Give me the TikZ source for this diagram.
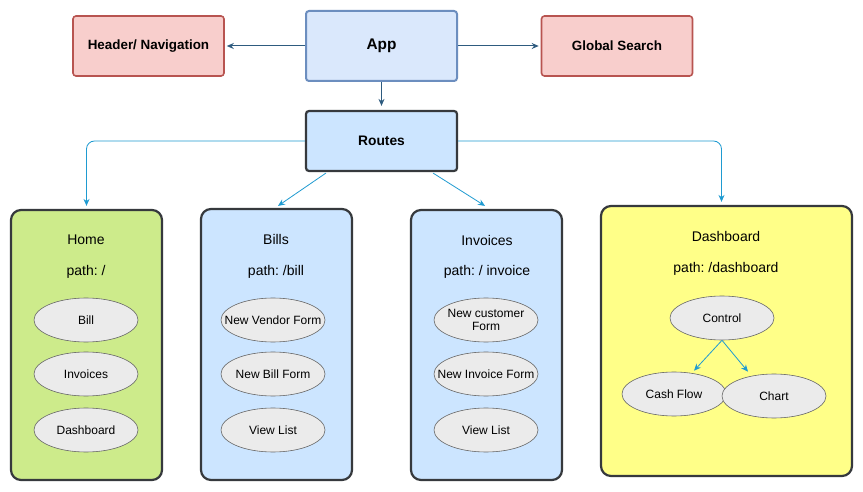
\documentclass[tikz,border=0pt]{standalone}
\usepackage{fontspec}
\setmainfont{Liberation Sans}
\frenchspacing
\usetikzlibrary{arrows.meta,calc,shapes.geometric}
\definecolor{redfill}{HTML}{F8CECC}
\definecolor{redline}{HTML}{B85450}
\definecolor{appfill}{HTML}{DAE8FC}
\definecolor{appline}{HTML}{6C8EBF}
\definecolor{bluefill}{HTML}{CCE5FF}
\definecolor{darkline}{HTML}{36393D}
\definecolor{greenfill}{HTML}{CDEB8B}
\definecolor{yellowfill}{HTML}{FFFF88}
\definecolor{ellfill}{HTML}{EBEBEB}
\definecolor{ellline}{HTML}{666666}
\definecolor{darkarrow}{HTML}{2E5B7F}
\definecolor{lightarrow}{HTML}{1F9BD1}
\newcommand{\ctext}[1]{\makebox[0pt]{\smash{\raisebox{-4.5pt}{\begin{tabular}{@{}c@{}}#1\end{tabular}}}}}
\begin{document}
\begin{tikzpicture}[x=1pt,y=-1pt,
  topbox/.style={draw=redline,fill=redfill,line width=1.6pt,rounded corners=3pt,minimum width=151pt,minimum height=60pt,font=\fontsize{13.4}{15}\selectfont\bfseries,inner sep=0pt},
  appbox/.style={draw=appline,fill=appfill,line width=2pt,rounded corners=3pt,minimum width=151pt,minimum height=70pt,font=\fontsize{15.4}{17}\selectfont\bfseries,inner sep=0pt},
  routebox/.style={draw=darkline,fill=bluefill,line width=2.2pt,rounded corners=3pt,minimum width=151pt,minimum height=60pt,font=\fontsize{13.8}{15}\selectfont\bfseries,inner sep=0pt},
  pagebox/.style={draw=darkline,line width=2.2pt,rounded corners=10pt,inner sep=0pt},
  lbl/.style={font=\fontsize{14}{16}\selectfont,inner sep=0pt},
  ell/.style={draw=ellline,fill=ellfill,ellipse,line width=0.6pt,minimum width=104pt,minimum height=44pt,inner sep=0pt,font=\fontsize{12}{13.5}\selectfont},
  darr/.style={draw=darkarrow,line width=1pt,-{Stealth[length=7pt,width=6pt]}},
  larr/.style={draw=lightarrow,line width=0.8pt,-{Stealth[length=7pt,width=6pt]}}
]
\useasboundingbox (0,0) rectangle (863,492);
\fill[white] (0,0) rectangle (863,492);

\node[topbox] (hdr) at (148.5,46) {Header/ Navigation};
\node[appbox] (app) at (381.5,46) {App};
\node[topbox] (gs) at (617,46) {Global Search};
\node[routebox] (routes) at (381.5,141) {Routes};

\draw[darr] (app.west) -- ($(hdr.east)+(2,0)$);
\draw[darr] (app.east) -- ($(gs.west)+(-2,0)$);
\draw[darr] (app.south) -- ($(routes.north)+(0,-4)$);

% page boxes
\node[pagebox,fill=greenfill,minimum width=151pt,minimum height=270pt] (home) at (86.5,345) {};
\node[pagebox,fill=bluefill,minimum width=151pt,minimum height=271pt] (bills) at (276.5,344.5) {};
\node[pagebox,fill=bluefill,minimum width=151pt,minimum height=270pt] (inv) at (486.5,345) {};
\node[pagebox,fill=yellowfill,minimum width=251pt,minimum height=270pt] (dash) at (726.5,341) {};

\draw[larr,rounded corners=8pt] (routes.west) -| ($(home.north)+(0,-3)$);
\draw[larr,rounded corners=8pt] (routes.east) -| ($(dash.north)+(-5,-3)$);
\draw[larr] ($(routes.south west)+(21,1)$) -- ($(bills.north)+(1.5,-2)$);
\draw[larr] ($(routes.south east)+(-25,1)$) -- ($(inv.north)+(-1.5,-3)$);

% Home
\node[lbl] (hometitle) at (86,240) {Home};
\node[lbl] (homepath) at (86,272) {path: /};
\node[ell] (hbill) at (86,320) {\ctext{Bill}};
\node[ell] (hinv) at (86,374) {\ctext{Invoices}};
\node[ell] (hdash) at (86,430) {\ctext{Dashboard}};

% Bills
\node[lbl] (billtitle) at (276,239) {Bills};
\node[lbl] (billpath) at (276,272) {path: /bill};
\node[ell] (bvend) at (273,320) {\ctext{New Vendor Form}};
\node[ell] (bnew) at (273,374) {\ctext{New Bill Form}};
\node[ell] (bview) at (273,430) {\ctext{View List}};

% Invoices
\node[lbl] (invtitle) at (487,240) {Invoices};
\node[lbl] (invpath) at (487,272) {path: / invoice};
\node[ell] (icust) at (486,320) {\ctext{New customer\\Form}};
\node[ell] (inew) at (486,374) {\ctext{New Invoice Form}};
\node[ell] (iview) at (486,430) {\ctext{View List}};

% Dashboard
\node[lbl] (dashtitle) at (726,236) {Dashboard};
\node[lbl] (dashpath) at (726,269) {path: /dashboard};
\node[ell] (ctrl) at (722,318) {\ctext{Control}};
\node[ell] (cash) at (674,394) {\ctext{Cash Flow}};
\node[ell] (chart) at (774,396) {\ctext{Chart}};

\draw[larr] (ctrl.south) -- ($(cash.north)+(20,-1)$);
\draw[larr] (ctrl.south) -- ($(chart.north)+(-26,-2)$);
\end{tikzpicture}
\end{document}
